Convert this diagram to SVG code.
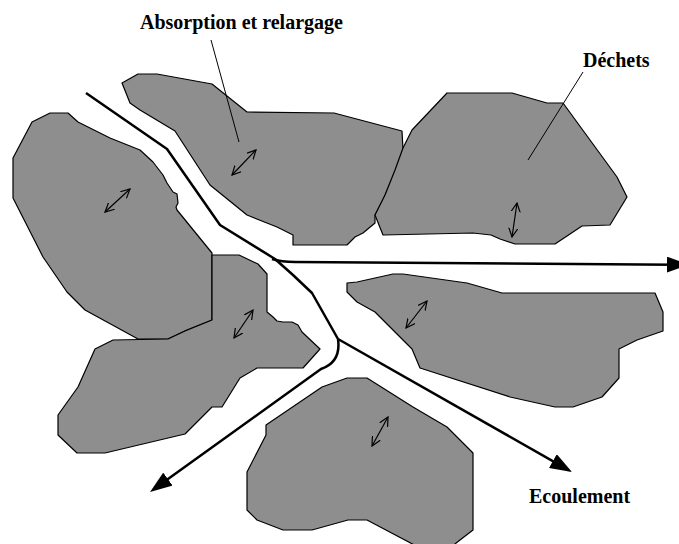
<svg xmlns="http://www.w3.org/2000/svg" width="679" height="544" viewBox="0 0 679 544">
<style>
.stone{fill:#8e8e8e;stroke:#000;stroke-width:1.2;stroke-linejoin:round}
.flow{fill:none;stroke:#000;stroke-width:2.5;stroke-linejoin:round}
.ex{fill:none;stroke:#000;stroke-width:1.2}
.lead{fill:none;stroke:#000;stroke-width:1}
.lbl{font-family:"Liberation Serif","Times New Roman",serif;font-weight:bold;font-size:20px;fill:#000}
</style>
<defs>
<marker id="big" viewBox="0 0 22 16" refX="8" refY="8" markerWidth="22" markerHeight="16" markerUnits="userSpaceOnUse" orient="auto">
<path d="M0,0 L22,8 L0,16 z" fill="#000"/>
</marker>
<marker id="open" viewBox="0 0 10 10" refX="9" refY="5" markerWidth="10" markerHeight="10" markerUnits="userSpaceOnUse" orient="auto-start-reverse">
<path d="M0,0.5 L9,5 L0,9.5" fill="none" stroke="#000" stroke-width="1.2"/>
</marker>
</defs>
<g id="stone-left">
<polygon class="stone" points="50,113 68,113 78,122 110,138 140,150 153,162 163,175 167,183 173,192 177,194 178,203 176,207 177,210 212,253 212,320 187,330 168,339 138,339 85,310 67,292 43,257 13,198 13,158 32,122"/>
<line class="ex" x1="105" y1="212" x2="130" y2="189" marker-start="url(#open)" marker-end="url(#open)"/>
</g>
<g id="stone-top">
<polygon class="stone" points="122,83 138,74 157,74 212,84 247,112 334,113 402,131 403,150 393,177 383,200 375,215 375,223 363,233 355,237 347,245 293,245 293,235 277,227 247,215 210,185 175,131 140,110 130,103"/>
<line class="ex" x1="232" y1="175" x2="256" y2="150" marker-start="url(#open)" marker-end="url(#open)"/>
</g>
<g id="stone-dechets">
<polygon class="stone" points="447,93 512,93 547,103 563,103 617,177 627,197 610,225 582,226 555,244 515,244 500,239 491,235 473,233 383,235 375,215 385,195 395,170 403,148 412,130"/>
<line class="ex" x1="512" y1="237" x2="517" y2="203" marker-start="url(#open)" marker-end="url(#open)"/>
</g>
<g id="stone-middle">
<polygon class="stone" points="212,255 239,255 258,264 267,274 267,312 273,317 277,321 283,322 292,322 298,325 302,332 320,349 303,368 257,368 240,378 222,407 212,407 185,434 105,453 77,453 58,435 58,415 78,387 95,349 113,340 168,339 185,331 212,320"/>
<line class="ex" x1="234" y1="338" x2="253" y2="310" marker-start="url(#open)" marker-end="url(#open)"/>
</g>
<g id="stone-right">
<polygon class="stone" points="347,283 357,282 393,274 403,274 467,283 502,293 655,293 663,312 663,331 637,340 619,349 619,378 602,397 573,407 555,407 510,397 420,368 412,349 375,312 357,302 347,292"/>
<line class="ex" x1="406" y1="328" x2="427" y2="301" marker-start="url(#open)" marker-end="url(#open)"/>
</g>
<g id="stone-bottom">
<polygon class="stone" points="266,425 266,435 247,472 247,510 257,520 283,530 312,530 348,520 367,520 420,548 450,548 460,540 473,530 473,453 447,427 413,407 367,378 347,378 322,387"/>
<line class="ex" x1="372" y1="446" x2="388" y2="417" marker-start="url(#open)" marker-end="url(#open)"/>
</g>
<g id="connectors">
<path class="flow" d="M86,93 L167,149 L220,225 L275,259 L293,275 L312,293 L338,339"/>
<path class="flow" d="M272,259 C278,261 283,262 295,262 L675,264.7" marker-end="url(#big)"/>
<path class="flow" d="M338,339 L559.8,465.1" marker-end="url(#big)"/>
<path class="flow" d="M338,339 C340,353 336,364 321,369 L161.4,483.8" marker-end="url(#big)"/>
<line class="lead" x1="211" y1="40" x2="239" y2="142"/>
<line class="lead" x1="583" y1="72" x2="528" y2="160"/>
</g>
<g id="labels">
<text class="lbl" x="140" y="29">Absorption et relargage</text>
<text class="lbl" x="583" y="67">Déchets</text>
<text class="lbl" x="529" y="503">Ecoulement</text>
</g>
</svg>
